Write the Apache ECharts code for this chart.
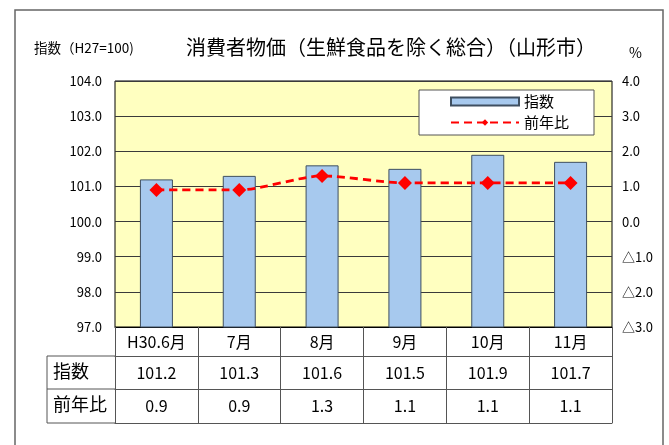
<!DOCTYPE html>
<html><head><meta charset="utf-8">
<script src="https://cdn.jsdelivr.net/npm/echarts@6/dist/echarts.min.js"></script>
<style>html,body{margin:0;padding:0;background:#fff}#c{width:669px;height:445px}</style>
</head><body><div id="c"></div>
<script>
const categories = ['H30.6月', '7月', '8月', '9月', '10月', '11月'];
const indexValues = [101.2, 101.3, 101.6, 101.5, 101.9, 101.7];
const yoyValues = [0.9, 0.9, 1.3, 1.1, 1.1, 1.1];
const rowLabels = ['指数', '前年比'];
const titleText = '消費者物価（生鮮食品を除く総合）（山形市）';
const leftAxisTitle = '指数（H27=100)';
const rightAxisTitle = '%';

const FONT = '"Noto Sans CJK JP", "Noto Sans", sans-serif';
const chart = echarts.init(document.getElementById('c'), null, {renderer: 'canvas'});
const tableLine = {show: true, onZero: false, lineStyle: {color: '#555', width: 1}};
const fmt1 = v => Number(v).toFixed(1);

chart.setOption({
  animation: false,
  backgroundColor: '#fff',
  textStyle: {fontFamily: FONT},
  title: [
    {text: titleText, left: 386, top: 32, textAlign: 'center',
     textStyle: {fontSize: 20, fontWeight: 'normal', color: '#000', fontFamily: FONT}},
    {text: leftAxisTitle, left: 29, top: 36,
     textStyle: {fontSize: 13.5, fontWeight: 'normal', color: '#000', fontFamily: FONT}},
    {text: rightAxisTitle, left: 624, top: 41,
     textStyle: {fontSize: 14, fontWeight: 'normal', color: '#000', fontFamily: FONT}}
  ],
  legend: {
    orient: 'vertical', left: 419, top: 90,
    backgroundColor: '#fff', borderColor: '#555', borderWidth: 1,
    padding: [4, 25, 5, 31], itemGap: 6,
    itemWidth: 68, itemHeight: 8,
    textStyle: {fontSize: 15, color: '#000', fontFamily: FONT},
    data: [{name: '指数', icon: 'rect'}, {name: '前年比'}]
  },
  grid: {left: 115, right: 57, top: 81, bottom: 118, show: true,
         backgroundColor: '#FFFFC0', borderColor: '#000', borderWidth: 1},
  xAxis: [
    {type: 'category', data: categories, position: 'bottom', offset: 0,
     axisLine: {show: true, onZero: false, lineStyle: {color: '#000'}},
     axisTick: {show: true, interval: 0, length: 29, lineStyle: {color: '#555'}},
     axisLabel: {interval: 0, margin: 7, fontSize: 16, color: '#000', fontFamily: FONT}},
    {type: 'category', data: indexValues.map(fmt1), position: 'bottom', offset: 29,
     axisLine: tableLine,
     axisTick: {show: true, interval: 0, length: 33, lineStyle: {color: '#555'}},
     axisLabel: {interval: 0, margin: 9, fontSize: 16, color: '#000', fontFamily: FONT}},
    {type: 'category', data: yoyValues.map(fmt1), position: 'bottom', offset: 62,
     axisLine: tableLine,
     axisTick: {show: true, interval: 0, length: 34, lineStyle: {color: '#555'}},
     axisLabel: {interval: 0, margin: 9, fontSize: 16, color: '#000', fontFamily: FONT}},
    {type: 'category', data: categories, position: 'bottom', offset: 96,
     axisLine: tableLine, axisTick: {show: false}, axisLabel: {show: false}}
  ],
  yAxis: [
    {type: 'value', min: 97, max: 104, interval: 1,
     axisLine: {show: false}, axisTick: {show: false},
     axisLabel: {formatter: fmt1, margin: 13, fontSize: 13, color: '#000', fontFamily: FONT},
     splitLine: {show: true, lineStyle: {color: '#3a3a3a', width: 1}}},
    {type: 'value', min: -3, max: 4, interval: 1, position: 'right',
     axisLine: {show: false}, axisTick: {show: false},
     axisLabel: {formatter: v => v < 0 ? '△' + fmt1(-v) : fmt1(v),
                 margin: 10, fontSize: 13, color: '#000', fontFamily: FONT},
     splitLine: {show: false}}
  ],
  series: [
    {name: '指数', type: 'bar', xAxisIndex: 0, yAxisIndex: 0, data: indexValues,
     barWidth: 33,
     itemStyle: {color: '#A7C9EE', borderColor: '#3F4F60', borderWidth: 1}},
    {name: '前年比', type: 'line', xAxisIndex: 0, yAxisIndex: 1, data: yoyValues,
     smooth: 0.25, symbol: 'diamond', symbolSize: 14,
     lineStyle: {color: '#FF0000', width: 2.8, type: [8, 5]},
     itemStyle: {color: '#FF0000'}}
  ],
  graphic: [
    {type: 'rect', shape: {x: 15, y: 10, width: 648, height: 460},
     style: {fill: 'none', stroke: '#666', lineWidth: 1.5}, z: 0},
    {type: 'polyline', shape: {points: [[115, 356], [47, 356], [47, 423], [115, 423]]},
     style: {fill: 'none', stroke: '#555', lineWidth: 1}},
    {type: 'line', shape: {x1: 47, y1: 389, x2: 115, y2: 389},
     style: {stroke: '#555', lineWidth: 1}},
    {type: 'text', left: 53, top: 362,
     style: {text: rowLabels[0], font: '18px ' + FONT, fill: '#000'}},
    {type: 'text', left: 53, top: 395,
     style: {text: rowLabels[1], font: '18px ' + FONT, fill: '#000'}}
  ]
});
</script>
</body></html>
